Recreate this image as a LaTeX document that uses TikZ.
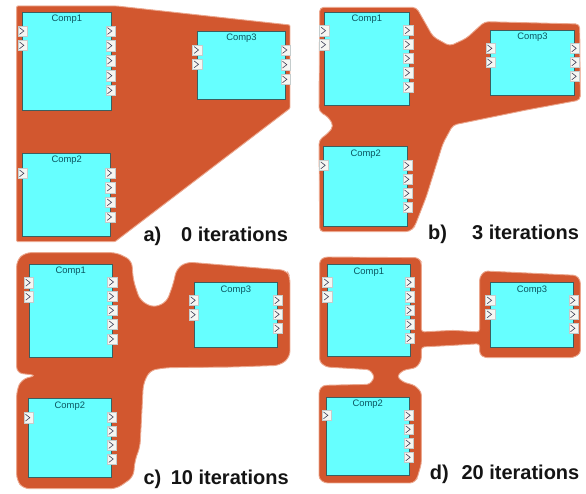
\documentclass[tikz,border=0pt]{standalone}
\usepackage{fontspec}
\setmainfont{Liberation Sans}
\definecolor{blob}{HTML}{D2572F}
\definecolor{blobedge}{HTML}{EBA78E}
\definecolor{compcyan}{HTML}{66FFFF}
\definecolor{compline}{HTML}{3C5F5F}
\definecolor{comptext}{HTML}{0B5560}
\definecolor{portline}{HTML}{C4CCCC}
\definecolor{portfill}{HTML}{F6F6F2}
\definecolor{portmark}{HTML}{404058}
\definecolor{labeltext}{HTML}{141414}
\tikzset{
  blobshape/.style={fill=blob,draw=blobedge,line width=0.9pt,rounded corners=4pt},
  compbox/.style={fill=compcyan,draw=compline,line width=0.8pt},
  comptitle/.style={text=comptext,font=\fontsize{9.4}{10}\selectfont,inner sep=0pt,anchor=center},
  portbox/.style={fill=portfill,draw=portline,line width=0.5pt,minimum width=9.4pt,minimum height=10.4pt,inner sep=0pt},
  portmark/.style={draw=portmark,line width=0.6pt},
  panelpart/.style={text=labeltext,font=\fontsize{20}{21}\selectfont\bfseries,inner sep=0pt,anchor=base west},
  panelscope/.style={x=0.33333pt,y=-0.33333pt}
}
\newcommand\portat[3]{%
  \node[portbox] (#1) at (#2,#3) {};
  \draw[portmark] ([xshift=-3.2pt,yshift=3.4pt]#1.center) -- ([xshift=1.2pt]#1.center) -- ([xshift=-3.2pt,yshift=-3.4pt]#1.center);
}
\newcommand\component[9]{%
  \draw[compbox] (#2,#3) rectangle (#4,#5);
  \node[comptitle] (\panel#1) at ({(#2+#4)/2},{#3+22}) {#1};
  \foreach \py in {#7} {\portat{\panel#1L\py}{#6}{\py}}
  \foreach \py in {#9} {\portat{\panel#1R\py}{#8}{\py}}
}
\begin{document}
\begin{tikzpicture}[x=1pt,y=-1pt]
\useasboundingbox (0,0) rectangle (586,494);
% panel a
\begin{scope}[panelscope]
\def\panel{a}
\draw[blobshape,rounded corners=1pt] (50,18) -- (350,18) -- (870,75) -- (870,325) -- (345,725) -- (50,725) -- cycle;
\component{Comp1}{68}{36}{333}{330}{68}{93,136}{332}{93,137,182,227,271}
\component{Comp3}{592}{93}{857}{298}{592}{150,193}{857}{150,194,238}
\component{Comp2}{68}{460}{332}{710}{68}{520}{331}{519,563,607,651}
\node[panelpart] (alabel) at (430,725) {a)};
\node[panelpart] (atext) at (543,725) {0 iterations};
\end{scope}
% panel b
\begin{scope}[shift={(293pt,0pt)},panelscope]
\def\panel{b}
\draw[blobshape] (80,22) -- (370,22) -- (420,110) -- (470,138) -- (520,115) -- (575,65) -- (860,72) -- (862,300) -- (700,330) -- (480,375) -- (450,430) -- (400,590) -- (365,680) -- (350,695) -- (80,695) -- (78,420) -- (105,400) -- (122,378) -- (105,350) -- (78,335) -- cycle;
\component{Comp1}{95}{37}{348}{317}{94}{92,134}{346}{91,133,175,218,261}
\component{Comp3}{592}{90}{845}{287}{593}{145,187}{846}{145,187,229}
\component{Comp2}{92}{440}{344}{680}{93}{496}{344}{496,538,580,622}
\node[panelpart] (blabel) at (405,720) {b)};
\node[panelpart] (btext) at (537,720) {3 iterations};
\end{scope}
% panel c
\begin{scope}[shift={(0pt,-247pt)},panelscope]
\def\panel{c}
\draw[blobshape,rounded corners=6pt] (50,40) -- (75,17) -- (350,17) -- (395,40) -- (400,100) -- (420,160) -- (460,182) -- (500,165) -- (520,110) -- (530,65) -- (560,45) -- (860,70) -- (870,90) -- (870,330) -- (840,355) -- (700,360) -- (500,362) -- (450,370) -- (430,410) -- (420,600) -- (405,640) -- (400,690) -- (350,725) -- (70,725) -- (50,700) -- (50,430) -- (65,397) -- (110,385) -- (50,378) -- cycle;
\component{Comp1}{87}{52}{337}{332}{87}{107,149}{337}{105,148,190,232,276}
\component{Comp3}{582}{107}{833}{302}{582}{160,203}{834}{160,202,244}
\component{Comp2}{84}{455}{335}{692}{86}{512}{336}{510,552,594,636}
\node[panelpart] (clabel) at (430,712) {c)};
\node[panelpart] (ctext) at (512,712) {10 iterations};
\end{scope}
% panel d
\begin{scope}[shift={(293pt,-247pt)},panelscope]
\def\panel{d}
\draw[blobshape,rounded corners=3pt] (80,40) -- (95,30) -- (375,32) -- (385,45) -- (385,255) -- (480,250) -- (560,255) -- (560,90) -- (575,72) -- (850,85) -- (862,100) -- (862,320) -- (840,332) -- (575,332) -- (560,322) -- (560,290) -- (480,295) -- (385,300) -- (385,340) -- (370,362) -- (330,370) -- (312,388) -- (330,405) -- (365,415) -- (385,435) -- (385,650) -- (372,695) -- (360,708) -- (95,708) -- (78,695) -- (78,430) -- (90,415) -- (230,412) -- (245,390) -- (230,368) -- (100,360) -- (80,345) -- cycle;
\component{Comp1}{103}{53}{352}{328}{103}{106,149}{351}{106,149,190,232,274}
\component{Comp3}{592}{107}{842}{300}{592}{160,202}{842}{160,202,244}
\component{Comp2}{100}{450}{348}{685}{101}{505}{348}{505,547,589,631}
\node[panelpart] (dlabel) at (410,698) {d)};
\node[panelpart] (dtext) at (505,698) {20 iterations};
\end{scope}
\end{tikzpicture}
\end{document}
